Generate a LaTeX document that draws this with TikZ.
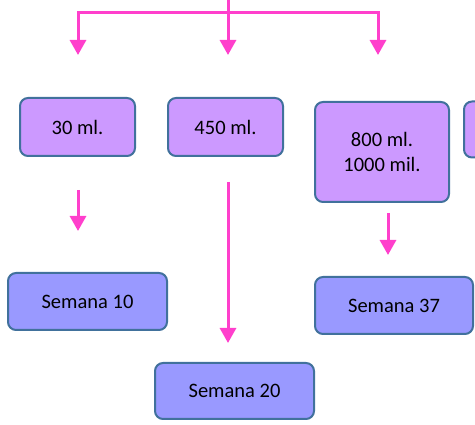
\documentclass[tikz,border=0pt]{standalone}
\usepackage{fontspec}
\setmainfont{Carlito}
\usetikzlibrary{arrows.meta}
\definecolor{rosa}{HTML}{FF3FCC}
\definecolor{lila}{HTML}{CC99FF}
\definecolor{azul}{HTML}{9999FF}
\definecolor{borde}{HTML}{41719C}
\begin{document}
\begin{tikzpicture}[x=1pt,y=-1pt,
    caja/.style={draw=borde,line width=2pt,rounded corners=8pt,align=center,
      font=\fontsize{20.5}{25}\selectfont,inner sep=0pt},
    flecha/.style={draw=rosa,line width=3pt,-{Triangle[width=16pt,length=15pt]}}]
  \useasboundingbox (0,0) rectangle (475,425);
  \clip (0,0) rectangle (475,425);
  % cantidades
  \node[caja,fill=lila,minimum width=115,minimum height=58] (n30) at (77.5,127) {30 ml.};
  \node[caja,fill=lila,minimum width=115,minimum height=58] (n450) at (225.5,127) {450 ml.};
  \node[caja,fill=lila,minimum width=134,minimum height=100] (n800) at (382,152) {800 ml.\\1000 mil.};
  \node[caja,fill=lila,minimum width=120,minimum height=56] (nmas) at (524,129.5) {};
  % semanas
  \node[caja,fill=azul,minimum width=159,minimum height=57] (s10) at (87.5,301.5) {Semana 10};
  \node[caja,fill=azul,minimum width=159,minimum height=56] (s20) at (234.5,391) {Semana 20};
  \node[caja,fill=azul,minimum width=158,minimum height=57] (s37) at (394,305.5) {Semana 37};
  % ramas de arriba
  \coordinate (arriba) at (228,-2);
  \coordinate (r1) at (78,13);
  \coordinate (r3) at (378,13);
  \foreach \x/\n in {78/f1,228/f2,378/f3} \coordinate (\n) at (\x,55);
  \draw[flecha] (arriba) -- (f2);
  \draw[flecha,{Triangle[width=16pt,length=15pt]}-{Triangle[width=16pt,length=15pt]}] (f1) -- (r1) -- (r3) -- (f3);
  % flechas de abajo
  \coordinate (a1) at (78,190);   \coordinate (b1) at (78,231);
  \coordinate (a2) at (228,182);  \coordinate (b2) at (228,343);
  \coordinate (a3) at (388,213);  \coordinate (b3) at (388,255);
  \foreach \i in {1,2,3} \draw[flecha] (a\i) -- (b\i);
\end{tikzpicture}
\end{document}
